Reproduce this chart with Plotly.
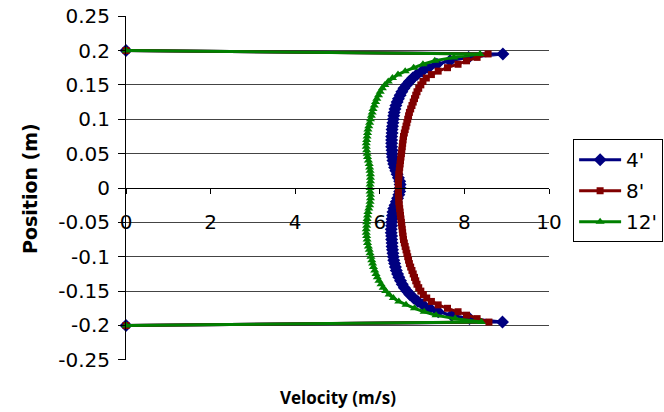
import plotly.graph_objects as go

# Measurement positions across the duct (m), top wall to bottom wall
positions = [0.2, 0.195, 0.19, 0.185, 0.18, 0.175, 0.17, 0.165, 0.16, 0.155,
             0.15, 0.145, 0.14, 0.135, 0.13, 0.125, 0.12, 0.115, 0.11, 0.105,
             0.1, 0.095, 0.09, 0.085, 0.08, 0.075, 0.07, 0.065, 0.06, 0.055,
             0.05, 0.045, 0.04, 0.035, 0.03, 0.025, 0.02, 0.015, 0.01, 0.005,
             0.0,
             -0.005, -0.01, -0.015, -0.02, -0.025, -0.03, -0.035, -0.04, -0.045, -0.05,
             -0.055, -0.06, -0.065, -0.07, -0.075, -0.08, -0.085, -0.09, -0.095, -0.1,
             -0.105, -0.11, -0.115, -0.12, -0.125, -0.13, -0.135, -0.14, -0.145, -0.15,
             -0.155, -0.16, -0.165, -0.17, -0.175, -0.18, -0.185, -0.19, -0.195, -0.2]

# Velocity (m/s) for each station
vel_4ft = [0,
           8.91, 8.10, 7.66, 7.35, 7.15, 7.00, 6.88, 6.78, 6.70, 6.63,
           6.57, 6.52, 6.48, 6.44, 6.41, 6.38, 6.36, 6.34, 6.33, 6.32,
           6.31, 6.30, 6.29, 6.29, 6.28, 6.28, 6.28, 6.28, 6.29, 6.29,
           6.30, 6.31, 6.33, 6.35, 6.38, 6.41, 6.44, 6.47, 6.48,
           6.48,
           6.47, 6.45, 6.42, 6.39, 6.36, 6.33, 6.31, 6.30, 6.29, 6.28,
           6.28, 6.27, 6.27, 6.28, 6.28, 6.29, 6.29, 6.30, 6.31, 6.32,
           6.33, 6.35, 6.37, 6.39, 6.42, 6.45, 6.49, 6.53, 6.58, 6.64,
           6.71, 6.80, 6.90, 7.02, 7.18, 7.38, 7.70, 8.12, 8.90,
           0]

vel_8ft = [0,
           8.56, 8.30, 8.05, 7.85, 7.60, 7.38, 7.22, 7.10, 7.02, 6.97,
           6.92, 6.88, 6.85, 6.82, 6.79, 6.76, 6.73, 6.70, 6.68, 6.66,
           6.64, 6.62, 6.60, 6.58, 6.56, 6.55, 6.54, 6.53, 6.52, 6.51,
           6.50, 6.49, 6.48, 6.47, 6.46, 6.45, 6.45, 6.44, 6.44,
           6.44,
           6.44, 6.44, 6.45, 6.45, 6.46, 6.47, 6.48, 6.49, 6.50, 6.51,
           6.52, 6.53, 6.54, 6.55, 6.56, 6.58, 6.60, 6.62, 6.64, 6.66,
           6.68, 6.70, 6.73, 6.76, 6.79, 6.82, 6.85, 6.88, 6.92, 6.97,
           7.03, 7.11, 7.22, 7.38, 7.60, 7.85, 8.05, 8.30, 8.58,
           0]

vel_12ft = [0,
            8.37, 7.75, 7.30, 7.02, 6.80, 6.60, 6.43, 6.30, 6.20, 6.12,
            6.06, 6.01, 5.97, 5.93, 5.90, 5.87, 5.84, 5.82, 5.80, 5.78,
            5.76, 5.74, 5.72, 5.71, 5.70, 5.69, 5.68, 5.68, 5.69, 5.70,
            5.71, 5.73, 5.75, 5.76, 5.77, 5.78, 5.78, 5.78, 5.77,
            5.77,
            5.77, 5.78, 5.78, 5.77, 5.76, 5.74, 5.72, 5.71, 5.70, 5.69,
            5.69, 5.68, 5.68, 5.69, 5.70, 5.71, 5.73, 5.75, 5.77, 5.79,
            5.81, 5.83, 5.85, 5.88, 5.91, 5.94, 5.98, 6.03, 6.08, 6.14,
            6.22, 6.32, 6.45, 6.62, 6.82, 7.05, 7.33, 7.78, 8.40,
            0]

series_names = ["4'", "8'", "12'"]
series_colors = ["#000080", "#800000", "#008000"]
series_symbols = ["diamond", "square", "triangle-up"]
series_sizes = [10, 7, 8]

x_ticks = [0, 2, 4, 6, 8, 10]
y_ticks = [0.25, 0.2, 0.15, 0.1, 0.05, 0, -0.05, -0.1, -0.15, -0.2, -0.25]
y_tick_labels = ["0.25", "0.2", "0.15", "0.1", "0.05", "0", "-0.05", "-0.1", "-0.15", "-0.2", "-0.25"]

TICK_FONT = dict(family="DejaVu Sans", size=20, color="black")

fig = go.Figure()
for name, vals, color, sym, size in zip(series_names, [vel_4ft, vel_8ft, vel_12ft],
                                        series_colors, series_symbols, series_sizes):
    fig.add_trace(go.Scatter(
        x=vals, y=positions, name=name, mode="lines+markers",
        line=dict(color=color, width=3),
        marker=dict(symbol=sym, size=size, color=color, line=dict(width=0)),
        cliponaxis=False, legendgroup=name,
    ))

fig.update_layout(
    width=664, height=412,
    margin=dict(l=126, r=115, t=16, b=52, autoexpand=False),
    paper_bgcolor="white", plot_bgcolor="white",
    font=dict(family="DejaVu Sans", size=20, color="black"),
    showlegend=True,
    legend=dict(x=1.057, y=0.642, xanchor="left", yanchor="top",
                bordercolor="black", borderwidth=1, bgcolor="white",
                font=dict(family="DejaVu Sans", size=20, color="black"),
                tracegroupgap=2, itemwidth=42),
    xaxis=dict(range=[0, 10], tickvals=x_ticks, anchor="free", position=0.5,
               showline=True, linecolor="black", linewidth=1,
               ticks="outside", ticklen=5, tickcolor="black",
               showgrid=False, zeroline=False, automargin=False,
               ticklabelstandoff=11, tickfont=TICK_FONT),
    yaxis=dict(range=[-0.2502, 0.2502], tickvals=y_ticks, ticktext=y_tick_labels,
               showline=True, linecolor="black", linewidth=1,
               ticks="outside", ticklen=7, tickcolor="black",
               showgrid=True, gridcolor="#444444", gridwidth=1,
               zeroline=False, automargin=False, ticklabeloverflow="allow",
               ticklabelstandoff=4, tickfont=TICK_FONT),
    annotations=[
        dict(text="<b>Velocity (m/s)</b>", xref="paper", yref="paper",
             x=0.5, y=-0.1076, xanchor="center", yanchor="middle", showarrow=False,
             font=dict(family="Open Sans", size=17, color="black")),
        dict(text="<b>Position (m)</b>", xref="paper", yref="paper",
             x=-0.227, y=0.5, xanchor="center", yanchor="middle", showarrow=False,
             textangle=-90, font=dict(family="DejaVu Sans", size=19, color="black")),
    ],
)

fig.write_html("out.html", config={"displayModeBar": False},
               post_script="document.body.style.margin='0px';")
